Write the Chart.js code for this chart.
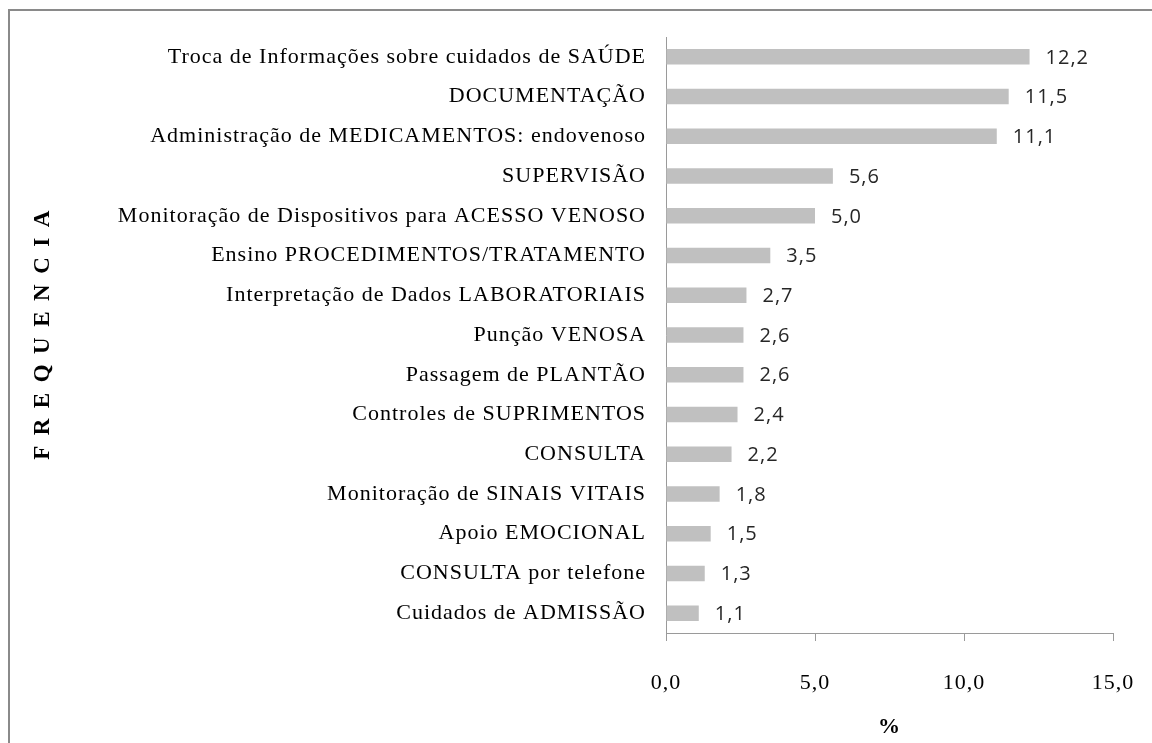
<!DOCTYPE html>
<html>
<head>
<meta charset="utf-8">
<script src="https://cdn.jsdelivr.net/npm/chart.js@4"></script>
<style>
    html, body { margin: 0; padding: 0; background: #fff; overflow: hidden; }
    #wrap { position: relative; width: 1152px; height: 743px; }
    #frame {
        position: absolute; left: 8px; top: 9px; width: 1200px; height: 800px;
        border-top: 2px solid #8a8a8a; border-left: 2px solid #8a8a8a;
    }
    #chart { position: absolute; left: 0; top: 0; }
</style>
</head>
<body>
<div id="wrap">
    <div id="frame"></div>
    <canvas id="chart" width="1152" height="743"></canvas>
</div>
<script>
const categories = [
    'Troca de Informações sobre cuidados de SAÚDE',
    'DOCUMENTAÇÃO',
    'Administração de MEDICAMENTOS: endovenoso',
    'SUPERVISÃO',
    'Monitoração de Dispositivos para ACESSO VENOSO',
    'Ensino PROCEDIMENTOS/TRATAMENTO',
    'Interpretação de Dados LABORATORIAIS',
    'Punção VENOSA',
    'Passagem de PLANTÃO',
    'Controles de SUPRIMENTOS',
    'CONSULTA',
    'Monitoração de SINAIS VITAIS',
    'Apoio EMOCIONAL',
    'CONSULTA por telefone',
    'Cuidados de ADMISSÃO'
];
const values = [12.2, 11.5, 11.1, 5.6, 5.0, 3.5, 2.7, 2.6, 2.6, 2.4, 2.2, 1.8, 1.5, 1.3, 1.1];
const xTicks = [0, 5, 10, 15];
const xTickLabels = ['0,0', '5,0', '10,0', '15,0'];
const yTitle = 'FREQUENCIA';
const xTitle = '%';

const serif = '"Liberation Serif", "Times New Roman", serif';

// slightly wide letters like the original, plus hand drawn value labels and y title
const extras = {
    id: 'extras',
    beforeDraw(chart) {
        chart.ctx.letterSpacing = '1px';
    },
    afterDatasetsDraw(chart) {
        const ctx = chart.ctx;
        const bars = chart.getDatasetMeta(0).data;
        ctx.save();
        ctx.letterSpacing = '1px';
        ctx.font = '20px "Open Sans", sans-serif';
        ctx.fillStyle = '#262626';
        ctx.textAlign = 'left';
        ctx.textBaseline = 'middle';
        bars.forEach((bar, i) => {
            ctx.fillText(values[i].toFixed(1).replace('.', ','), bar.x + 16, bar.y + 1);
        });
        ctx.restore();
    },
    afterDraw(chart) {
        const ctx = chart.ctx;
        const area = chart.chartArea;
        ctx.save();
        ctx.letterSpacing = '10.5px';
        ctx.font = 'bold 23px ' + serif;
        ctx.fillStyle = '#000';
        ctx.textAlign = 'center';
        ctx.textBaseline = 'middle';
        ctx.translate(43, (area.top + area.bottom) / 2 - 5);
        ctx.rotate(-Math.PI / 2);
        ctx.fillText(yTitle, 0, 0);
        ctx.restore();
    }
};

new Chart(document.querySelector('#chart'), {
    type: 'bar',
    data: {
        labels: categories,
        datasets: [{
            data: values,
            backgroundColor: '#c0c0c0',
            borderWidth: 0,
            barPercentage: 0.39,
            categoryPercentage: 1
        }]
    },
    options: {
        indexAxis: 'y',
        responsive: false,
        animation: false,
        layout: { padding: { top: 37, right: 39, bottom: 0, left: 0 } },
        plugins: { legend: { display: false }, tooltip: { enabled: false } },
        scales: {
            x: {
                min: 0,
                max: 15,
                afterBuildTicks: (scale) => { scale.ticks = xTicks.map(v => ({ value: v })); },
                afterFit: (scale) => {
                    scale.height = 110;
                    scale.paddingLeft = 0;
                    scale.paddingRight = 0;
                },
                ticks: {
                    callback: (v, i) => xTickLabels[i],
                    font: { family: serif, size: 22 },
                    color: '#000',
                    padding: 29,
                    maxRotation: 0
                },
                grid: { drawOnChartArea: false, drawTicks: true, tickLength: 8, color: '#9a9a9a' },
                border: { color: '#9a9a9a' },
                title: {
                    display: true,
                    text: xTitle,
                    font: { family: serif, size: 22, weight: 'bold' },
                    color: '#000',
                    padding: { top: 0, bottom: 2 }
                }
            },
            y: {
                afterFit: (scale) => { scale.width = 666; },
                ticks: {
                    font: { family: serif, size: 22 },
                    color: '#000',
                    padding: 20,
                    autoSkip: false
                },
                grid: { display: false, drawTicks: false },
                border: { display: true, color: '#9a9a9a' }
            }
        }
    },
    plugins: [extras]
});
</script>
</body>
</html>
